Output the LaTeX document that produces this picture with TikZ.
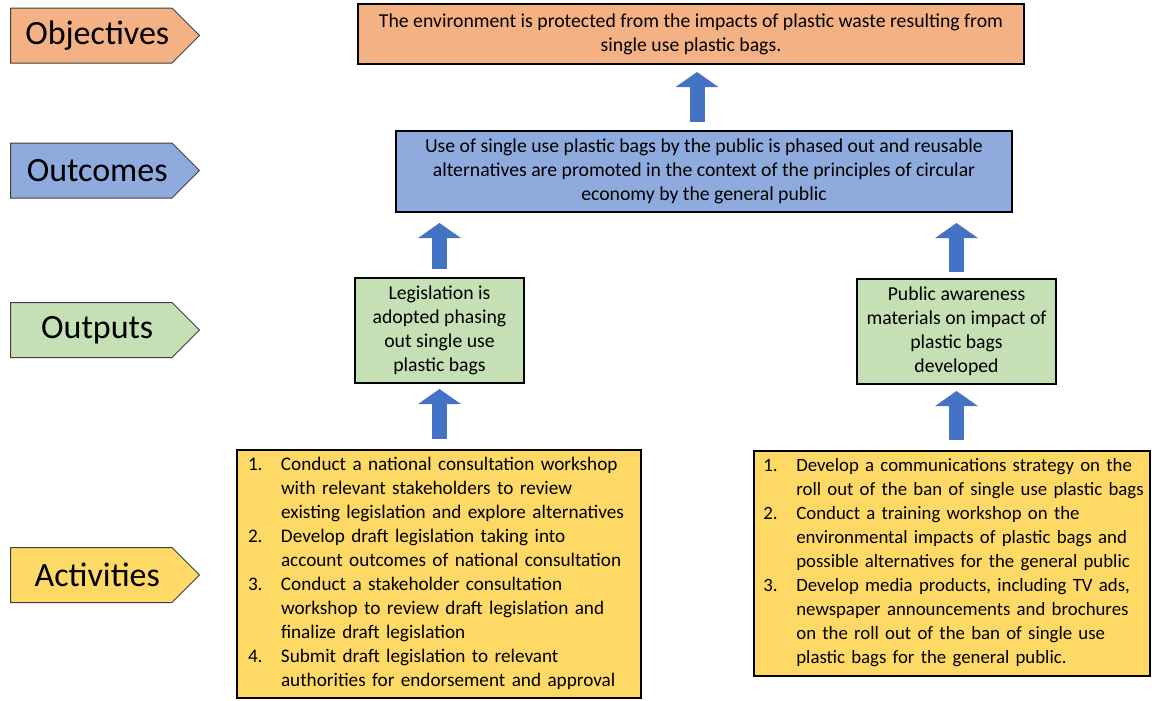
\documentclass[tikz,border=0pt]{standalone}
\usepackage{fontspec}
\setmainfont{Carlito}
\usetikzlibrary{shapes.symbols,arrows.meta}

\definecolor{objfill}{HTML}{F4B183}
\definecolor{outcfill}{HTML}{8FAADC}
\definecolor{outpfill}{HTML}{C5E0B4}
\definecolor{actfill}{HTML}{FFD966}
\definecolor{arrowblue}{HTML}{4472C4}

\tikzset{
  tag/.style={signal, signal to=east, signal pointer angle=90, draw=black!75, line width=0.75pt,
    minimum width=141.75pt, minimum height=41.25pt, inner sep=0pt, anchor=west,
    font=\fontsize{25.5}{30}\selectfont},
  box/.style={draw, line width=1.5pt, inner sep=0pt, align=center, font=\fontsize{14.8}{18}\selectfont},
  listbox/.style={box, align=left, font=\fontsize{14.4}{18}\selectfont},
  uparrow/.style={draw=arrowblue, line width=11.25pt, -{Triangle[width=31.5pt,length=11.25pt]}},
}

\begin{document}
\begin{tikzpicture}[x=0.75pt,y=-0.75pt]
\useasboundingbox (0,0) rectangle (1152,700);

% row labels
\node (objtag) [tag, fill=objfill] at (10,35.5) {\hspace*{9pt}Objectives};
\node (outctag) [tag, fill=outcfill] at (10,170.5) {\hspace*{9pt}Outcomes};
\node (outptag) [tag, fill=outpfill] at (10,330) {\hspace*{9pt}Outputs};
\node (acttag) [tag, fill=actfill] at (10,575) {\hspace*{9pt}Activities};

% boxes
\node (obj) [box, fill=objfill, minimum width=499.5pt, minimum height=45pt] at (691,34)
  {The environment is protected from the impacts of plastic waste resulting from\\ single use plastic bags.};
\node (outc) [box, fill=outcfill, minimum width=462pt, minimum height=60.75pt] at (704,171.5)
  {Use of single use plastic bags by the public is phased out and reusable\\ alternatives are promoted in the context of the principles of circular\\ economy by the general public};
\node (outpl) [box, fill=outpfill, minimum width=126.75pt, minimum height=78.75pt] at (439.5,330.5)
  {Legislation is\\ adopted phasing\\ out single use\\ plastic bags};
\node (outpr) [box, fill=outpfill, minimum width=149.25pt, minimum height=78.75pt] at (956.5,331.5)
  {Public awareness\\ materials on impact of\\ plastic bags\\ developed};
\node (actl) [listbox, fill=actfill, inner xsep=8.25pt, text width=286.5pt, minimum height=186pt] at (439,574)
  {\begin{tabular}{@{}p{24.75pt}@{}l@{}}
  1. & Conduct a national consultation workshop\\
     & with relevant stakeholders to review\\
     & existing legislation and explore alternatives\\
  2. & Develop draft legislation taking into\\
     & account outcomes of national consultation\\
  3. & Conduct a stakeholder consultation\\
     & workshop to review draft legislation and\\
     & finalize draft legislation\\
  4. & Submit draft legislation to relevant\\
     & authorities for endorsement and approval
  \end{tabular}};
\node (actr) [listbox, fill=actfill, inner xsep=7pt, text width=283pt, minimum height=168.75pt,
  font=\fontsize{14.1}{18}\selectfont] at (952,563)
  {\begin{tabular}{@{}p{24.75pt}@{}l@{}}
  1. & Develop a communications strategy on the\\
     & roll out of the ban of single use plastic bags\\
  2. & Conduct a training workshop on the\\
     & environmental impacts of plastic bags and\\
     & possible alternatives for the general public\\
  3. & Develop media products, including TV ads,\\
     & newspaper announcements and brochures\\
     & on the roll out of the ban of single use\\
     & plastic bags for the general public.
  \end{tabular}};

% arrows
\draw [uparrow, shorten <=6pt, shorten >=5.25pt] ([xshift=-5.25pt]outc.north) -- ([xshift=-5.25pt]outc.north |- obj.south);
\draw [uparrow, shorten <=6pt, shorten >=7.5pt] (outpl.north) -- (outpl.north |- outc.south);
\draw [uparrow, shorten <=4.5pt, shorten >=7.5pt] (outpr.north) -- (outpr.north |- outc.south);
\draw [uparrow, shorten <=7.5pt, shorten >=3.75pt] (outpl.south |- actl.north) -- (outpl.south);
\draw [uparrow, shorten <=7.5pt, shorten >=4.5pt] (outpr.south |- actr.north) -- (outpr.south);
\end{tikzpicture}
\end{document}
